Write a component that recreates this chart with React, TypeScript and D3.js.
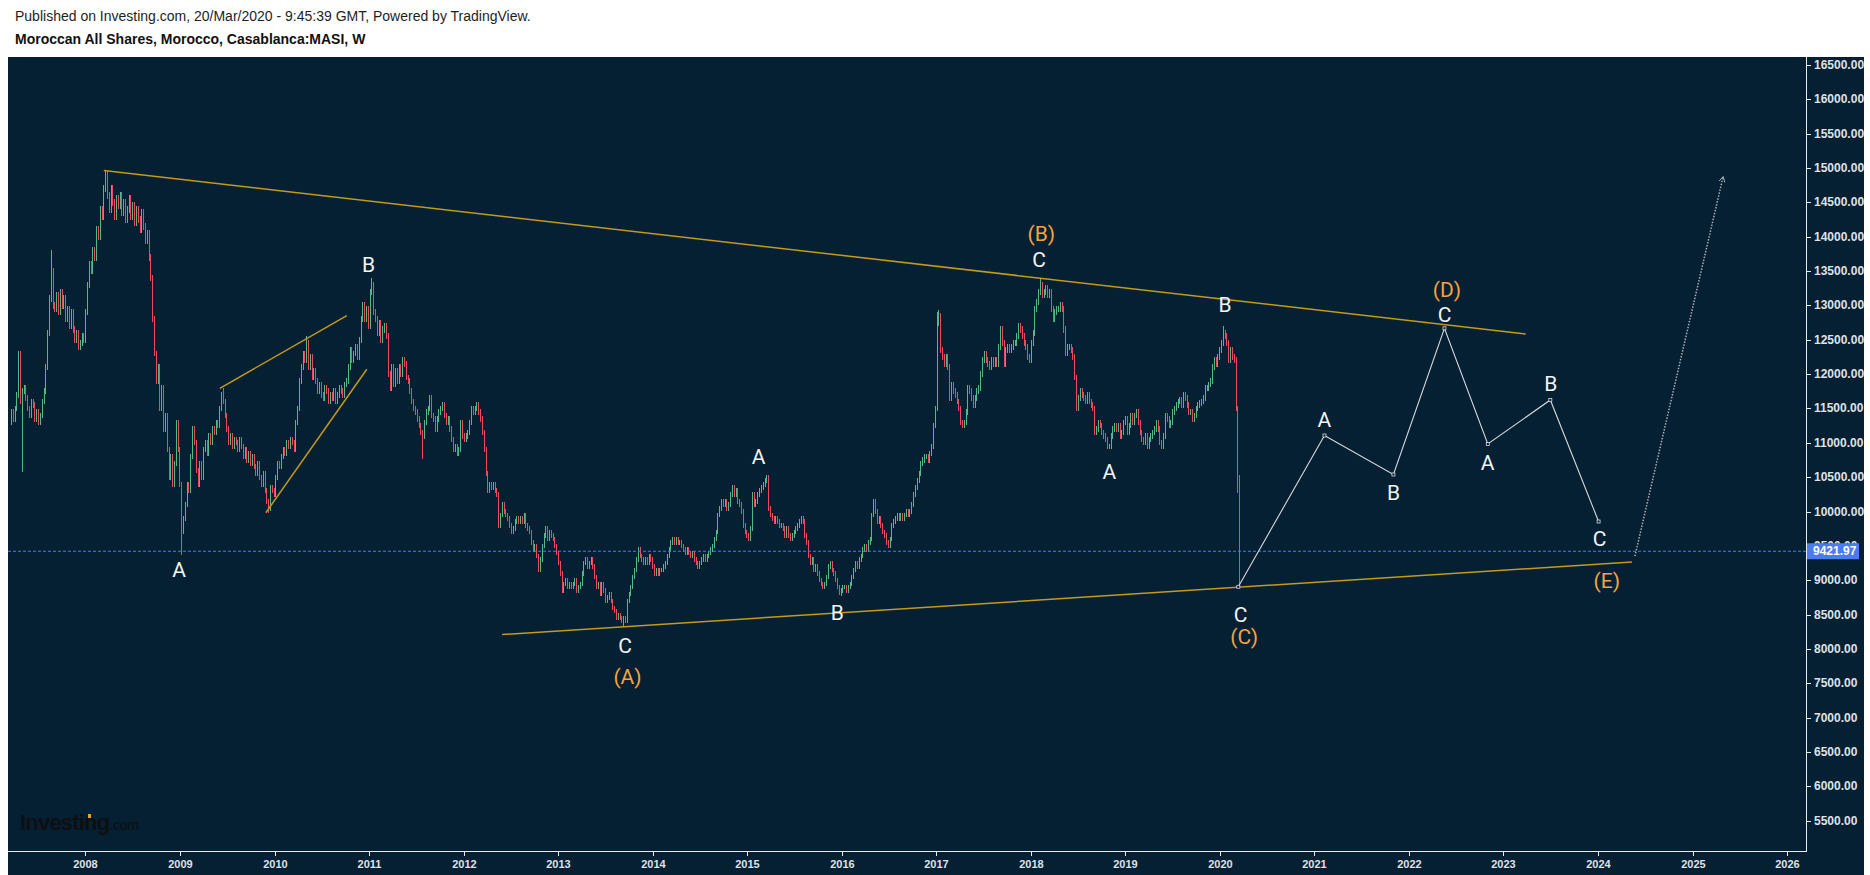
import React from 'react';
import * as d3 from 'd3';

// ---------- DATA ----------
const LAST_WEEK = Date.UTC(2020, 2, 16);
const WEEK_MS = 7 * 24 * 3600 * 1000;
const FIRST_OPEN = 11300;
const LAST_PRICE = 9421.97;

// Weekly closes, Casablanca MASI, Mar 2007 -> Mar 2020
const weeklyCloses: number[] = [
  11450, 11350, 11500, 11700, 12300, 11600, 11750, 11800, 11650, 11500,
  11400, 11600, 11550, 11350, 11450, 11300, 11400, 11600, 11750, 12100,
  12600, 13100, 13500, 13000, 12950, 13150, 12900, 13200, 13000, 13100,
  12800, 12950, 12700, 12900, 12650, 12500, 12600, 12400, 12450, 12550,
  12500, 12900,
  13300, 13600, 13500, 13800, 13700, 14100, 14000, 14400, 14300, 14700, 14900,
  14600, 14400, 14700, 14500, 14300, 14550, 14450, 14600, 14350, 14500, 14250, 14400, 14550, 14300, 14450, 14200, 14400, 14250, 14100, 14350, 14150,
  13950, 14050, 13700, 13400, 12800, 12300, 11900, 12100, 11500, 11800, 11200, 11400, 10900, 10500, 10800, 10400, 10700, 11300, 10900, 10400, 9700, 9900,
  10100, 10400, 10300, 10800, 11200, 11000, 10600, 10400, 10700, 10500, 10900, 11000, 10850, 11100, 11000, 11200, 11150, 11300, 11250, 11500, 11700, 11600,
  11400, 11200, 11000, 11100, 10950, 11050, 11000, 10900, 11050, 10950, 10800, 10900, 10750, 10850, 10700, 10800, 10650, 10550, 10700, 10500, 10400, 10550, 10300, 10150, 10050, 10350,
  10300, 10250, 10500, 10700, 10650, 10800, 10900, 10850, 11000, 10950, 11050, 11000, 10900, 11300, 11500, 11900, 12100,
  12300, 12200, 12450, 12100, 12250, 11950, 12050, 11900,
  11750, 11850, 11700, 11650, 11800, 11750, 11600, 11700, 11650, 11750, 11600, 11700, 11800, 11750, 11700, 11850, 11900,
  12100, 12350, 12200, 12300, 12400, 12250, 12500, 12800, 13000, 12800, 12950, 12700, 13200, 13300, 12900,
  12800, 12600, 12750, 12500, 12650, 12700, 12550, 12000, 11800, 12100, 11850, 12050,
  11900, 12100, 12000, 12200, 12150, 11950,
  11900, 11750, 11600, 11500, 11450, 11350, 11250, 11150, 11100, 11300,
  11450, 11500, 11650, 11400, 11350, 11200, 11350, 11450, 11500, 11550, 11400, 11300, 11350, 11200,
  11050, 10900, 10950, 10850, 10900,
  11300, 11100, 11050, 11100, 11150, 11300, 11500, 11450, 11500, 11550, 11450, 11350, 11150,
  10900, 10550, 10300,
  10400, 10350, 10400, 10300, 10250, 9800, 9950, 10100,
  10000, 9950, 9900, 9800, 9700, 9750, 9850, 9900, 9850, 9900, 9850, 9950, 9800, 9750, 9700,
  9550, 9450, 9500, 9350, 9150, 9300,
  9500, 9650, 9750, 9600, 9700, 9650, 9600, 9500, 9400,
  9250, 9100, 8850, 8950, 9000,
  8900, 8950, 8900, 8950, 9000, 8850, 8900, 8950,
  9100, 9250, 9300, 9200, 9250, 9300, 9200,
  9050, 8900, 8950, 8800, 8950, 8850, 8700, 8750, 8800, 8700, 8600, 8550, 8450, 8500, 8450, 8400, 8450, 8400,
  8700, 8800, 8900, 9050, 9150, 9300, 9450,
  9350, 9300, 9250, 9300, 9250, 9350, 9300, 9200, 9100, 9150, 9100, 9150, 9150, 9200, 9250, 9350, 9450, 9550,
  9600, 9550, 9600, 9550, 9550, 9500, 9450, 9400, 9450, 9400, 9350, 9400,
  9300, 9250, 9200, 9250, 9300, 9350, 9300, 9350, 9400, 9450, 9500,
  9600, 9700, 9950, 10050, 10150, 10100, 10150, 10050, 10100, 10250,
  10350, 10250, 10300, 10150, 10100, 10000, 9800, 9700, 9650, 9600, 9750,
  10250, 10100, 10150, 10250, 10300, 10350, 10400, 10450, 10500,
  10050, 9950, 9900, 9850, 9900, 9850, 9800, 9800, 9750, 9650, 9750, 9650, 9600,
  9650, 9700, 9750, 9800, 9850, 9900, 9850, 9650, 9550,
  9350, 9250, 9300, 9150, 9200, 9100, 9000,
  8950, 8900, 8950, 9050, 9200, 9250, 9150, 9100, 9000,
  8900, 8800, 8850, 8900, 8900, 8850, 8900, 8950,
  9050, 9150, 9250, 9200, 9300, 9350, 9450, 9500, 9450, 9550, 9600,
  9950, 10150,
  10000, 9850, 9900, 9800, 9700, 9650, 9550, 9500, 9600,
  9800, 9850, 9900, 9950, 9900, 9950, 9900, 9950, 10000, 9950, 10000,
  10100, 10250, 10350, 10450, 10550, 10700, 10750, 10800, 10800, 10750, 10850, 10950,
  11250, 11500, 12750, 12850, 12350, 12250, 12150, 12250, 12100, 11650, 11850, 11750, 11700, 11600,
  11500, 11300, 11250, 11300, 11450, 11800, 11750, 11650, 11550, 11650, 11750, 11800, 12000,
  12200, 12300, 12200, 12150, 12100, 12200, 12150, 12200, 12150, 12400, 12650,
  12450, 12150, 12350, 12400, 12350, 12400, 12450, 12450,
  12550, 12700, 12650, 12550, 12450, 12400, 12250,
  12200, 12450, 12600,
  12950, 13050, 13200, 13300,
  13150, 13200, 13250, 13150, 13200, 12950,
  12800, 12900, 12950, 12950, 13000, 12950, 12650,
  12300, 12400, 12400, 12350, 12250, 11950, 11500,
  11650, 11750, 11700, 11650, 11600, 11700, 11600, 11550, 11500, 11150,
  11200, 11300, 11250, 11150, 11100, 11050, 10950, 10950,
  11100, 11200, 11250, 11200, 11250, 11100, 11150, 11300, 11350, 11150, 11250, 11400, 11300, 11400, 11450,
  11300, 11150, 11050, 11000, 11100, 10950, 11050, 11100, 11150, 11200, 11300, 11200, 11000, 10950, 11100, 11400, 11350, 11250,
  11300, 11450, 11500, 11550, 11600, 11620, 11550, 11700, 11650, 11550, 11450, 11450, 11350, 11400, 11500, 11550, 11580, 11600,
  11650, 11800, 11800, 11850, 11900, 12100, 12200, 12150, 12250, 12350, 12450, 12600, 12550, 12450, 12200, 12350, 12250, 12200, 11500,
  10300, 9421.97,
];

// long wicks visible in the picture: [bar index, price]
const highWicks: [number, number][] = [
  [22, 13800], [52, 14970], [117, 11800], [163, 12550], [199, 13400],
  [511, 12900], [512, 12930], [568, 13380], [669, 12700], [678, 10530],
];
const lowWicks: [number, number][] = [
  [6, 10570], [94, 9370], [142, 9980], [227, 10760], [338, 8330],
  [457, 8790], [678, 8900],
];

const priceTicks = [5500, 6000, 6500, 7000, 7500, 8000, 8500, 9000, 9500, 10000, 10500, 11000,
  11500, 12000, 12500, 13000, 13500, 14000, 14500, 15000, 15500, 16000, 16500];
const yearTicks = [2008, 2009, 2010, 2011, 2012, 2013, 2014, 2015, 2016, 2017, 2018, 2019,
  2020, 2021, 2022, 2023, 2024, 2025, 2026];

// annotations: [decimal year, price]
const upperTrend: [number, number][] = [[2008.194, 14964], [2023.236, 12584]];
const lowerTrend: [number, number][] = [[2012.407, 8210], [2024.36, 9266]];
const wedgeUpper: [number, number][] = [[2009.42, 11794], [2010.764, 12851]];
const wedgeLower: [number, number][] = [[2009.907, 9983], [2010.976, 12071]];
const projectedPath: [number, number][] = [
  [2020.196, 8905], [2021.106, 11107], [2021.836, 10539], [2022.376, 12667],
  [2022.835, 10983], [2023.497, 11624], [2024.008, 9855],
];
const breakoutArrow: [number, number][] = [[2024.391, 9350], [2025.324, 14876]];

const waveLabels: [number, number, string][] = [
  [2008.988, 9149, 'A'], [2010.995, 13592, 'B'], [2013.708, 8037, 'C'],
  [2015.122, 10797, 'A'], [2015.954, 8523, 'B'], [2018.088, 13662, 'C'],
  [2018.831, 10571, 'A'], [2020.056, 13002, 'B'], [2020.22, 8500, 'C'],
  [2021.104, 11336, 'A'], [2021.836, 10277, 'B'], [2022.378, 12864, 'C'],
  [2022.833, 10711, 'A'], [2023.502, 11857, 'B'], [2024.019, 9600, 'C'],
];
const degreeLabels: [number, number, string][] = [
  [2013.733, 7586, '(A)'], [2018.112, 14044, '(B)'], [2020.258, 8170, '(C)'],
  [2022.403, 13228, '(D)'], [2024.094, 8992, '(E)'],
];

// ---------- STYLE ----------
const BG = '#051f33';
const UP = '#53b987';
const DOWN = '#f2485f';
const GOLD = '#c49a1c';
const ORANGE = '#f5a33c';
const WHITE_TXT = '#f2f4f6';
const AXIS_TXT = '#dfe2e6';
const BLUE = '#4a7cf0';
const AX_FONT = '"Liberation Sans", Arial, sans-serif';
const LBL_FONT = 'Roboto, "Open Sans", sans-serif';

function yearToDate(yf: number): Date {
  const yr = Math.floor(yf);
  const s = Date.UTC(yr, 0, 1);
  const e = Date.UTC(yr + 1, 0, 1);
  return new Date(s + (yf - yr) * (e - s));
}

export default function App() {
  const W = 1870, H = 875;
  const left = 8, right = 1806, top = 57, bottom = 851;

  const x = d3.scaleTime().domain([yearToDate(2007.18), yearToDate(2026.201)]).range([left, right]);
  const y = d3.scaleLinear().domain([5059, 16616]).range([bottom, top]);

  const N = weeklyCloses.length;
  const hiMap = new Map(highWicks);
  const loMap = new Map(lowWicks);
  const bars = weeklyCloses.map((c, i) => {
    const o = i === 0 ? FIRST_OPEN : weeklyCloses[i - 1];
    const hi = hiMap.has(i) ? (hiMap.get(i) as number) : Math.max(o, c) * 1.0035;
    const lo = loMap.has(i) ? (loMap.get(i) as number) : Math.min(o, c) * 0.9965;
    return { date: new Date(LAST_WEEK - (N - 1 - i) * WEEK_MS), o, c, hi, lo };
  });

  const px = (p: [number, number]) => [x(yearToDate(p[0])), y(p[1])] as [number, number];
  const line = d3.line();
  const seg = (pts: [number, number][]) => line(pts.map(px)) || '';

  const arr = breakoutArrow.map(px);
  const ang = Math.atan2(arr[1][1] - arr[0][1], arr[1][0] - arr[0][0]);
  const ah = 6;
  const arrowHead = `M${arr[1][0] - ah * Math.cos(ang - 0.5)},${arr[1][1] - ah * Math.sin(ang - 0.5)} L${arr[1][0]},${arr[1][1]} L${arr[1][0] - ah * Math.cos(ang + 0.5)},${arr[1][1] - ah * Math.sin(ang + 0.5)}`;

  const lastY = y(LAST_PRICE);

  return (
    <svg width={W} height={H} style={{ position: 'absolute', left: 0, top: 0, display: 'block' }}>
      <rect width={W} height={H} fill="#ffffff" />
      <text x={15} y={21} fontFamily={AX_FONT} fontSize={14} fill="#1e1e1e">
        Published on Investing.com, 20/Mar/2020 - 9:45:39 GMT, Powered by TradingView.
      </text>
      <text x={15} y={44} fontFamily={AX_FONT} fontSize={14} fontWeight="bold" fill="#111">
        Moroccan All Shares, Morocco, Casablanca:MASI, W
      </text>

      <rect x={8} y={top} width={1856} height={H - top} fill={BG} />

      <defs>
        <clipPath id="plotClip">
          <rect x={left} y={top} width={right - left} height={bottom - top} />
        </clipPath>
      </defs>

      <g clipPath="url(#plotClip)">
        {/* watermark logo */}
        <text x={20} y={830} fontFamily="Arial, sans-serif" fontWeight="bold" fontSize={22} fill="#0d0f12" letterSpacing={-0.8}>
          Investing<tspan fontWeight="normal" fontSize={14} letterSpacing={-0.3}>.com</tspan>
        </text>
        <rect x={88} y={814} width={3} height={4} fill="#f29c1f" />

        {/* candles */}
        <g shapeRendering="crispEdges">
          {bars.map((b, i) => {
            const cx = Math.round(x(b.date));
            const y1 = y(b.hi);
            const y2 = y(b.lo);
            return (
              <rect key={i} x={cx} y={y1} width={1} height={Math.max(1, y2 - y1)} fill={b.c >= b.o ? UP : DOWN} />
            );
          })}
        </g>

        {/* last price line */}
        <line x1={left} x2={right} y1={lastY} y2={lastY} stroke={BLUE} strokeWidth={1} strokeDasharray="3 2" />

        {/* trendlines */}
        {[upperTrend, lowerTrend, wedgeUpper, wedgeLower].map((t, i) => (
          <path key={i} d={seg(t)} stroke={GOLD} strokeWidth={1.5} fill="none" />
        ))}

        {/* projected path */}
        <path d={seg(projectedPath)} stroke="#d6d9de" strokeWidth={1.1} fill="none" />
        {projectedPath.map((p, i) => {
          const [qx, qy] = px(p);
          return <rect key={i} x={qx - 1.5} y={qy - 1.5} width={3} height={3} fill={BG} stroke="#d6d9de" strokeWidth={0.8} />;
        })}

        {/* dotted breakout arrow */}
        <path d={seg(breakoutArrow)} stroke="#a9b0b8" strokeWidth={1.5} strokeDasharray="1.5 1.5" fill="none" />
        <path d={arrowHead} stroke="#a9b0b8" strokeWidth={1} fill="none" />

        {/* wave labels */}
        {waveLabels.map((l, i) => {
          const [lx, ly] = px([l[0], l[1]]);
          return (
            <text key={i} x={lx} y={ly} textAnchor="middle" dominantBaseline="central" fontFamily={LBL_FONT} fontSize={21} fill={WHITE_TXT}>
              {l[2]}
            </text>
          );
        })}
        {degreeLabels.map((l, i) => {
          const [lx, ly] = px([l[0], l[1]]);
          return (
            <text key={i} x={lx} y={ly} textAnchor="middle" dominantBaseline="central" fontFamily={LBL_FONT} fontSize={21} fill={ORANGE}>
              {l[2]}
            </text>
          );
        })}
      </g>

      {/* axes */}
      <line x1={right + 0.5} x2={right + 0.5} y1={top} y2={bottom + 1} stroke="#e8eaee" strokeWidth={1} />
      <line x1={left} x2={right + 1} y1={bottom + 0.5} y2={bottom + 0.5} stroke="#e8eaee" strokeWidth={1} />

      {priceTicks.map((t) => (
        <g key={t}>
          <line x1={right} x2={right + 5} y1={Math.round(y(t)) + 0.5} y2={Math.round(y(t)) + 0.5} stroke="#e8eaee" />
          <text x={right + 8} y={y(t)} dominantBaseline="central" fontFamily={AX_FONT} fontSize={12} fontWeight="bold" fill={AXIS_TXT}>
            {t.toFixed(2)}
          </text>
        </g>
      ))}

      <defs>
        <clipPath id="xAxisClip">
          <rect x={left} y={bottom} width={right - left} height={H - bottom} />
        </clipPath>
      </defs>
      <g clipPath="url(#xAxisClip)">
        {yearTicks.map((yr) => {
          const tx = Math.round(x(yearToDate(yr))) + 0.5;
          return (
            <g key={yr}>
              <line x1={tx} x2={tx} y1={bottom} y2={bottom + 5} stroke="#e8eaee" />
              <text x={tx} y={864} textAnchor="middle" dominantBaseline="central" fontFamily={AX_FONT} fontSize={11} fontWeight="bold" fill={AXIS_TXT}>
                {yr}
              </text>
            </g>
          );
        })}
      </g>

      {/* last price label */}
      <rect x={right + 1} y={lastY - 8} width={52} height={16} fill={BLUE} />
      <text x={right + 7} y={lastY} dominantBaseline="central" fontFamily={AX_FONT} fontSize={12} fontWeight="bold" fill="#ffffff">
        {LAST_PRICE.toFixed(2)}
      </text>
    </svg>
  );
}
